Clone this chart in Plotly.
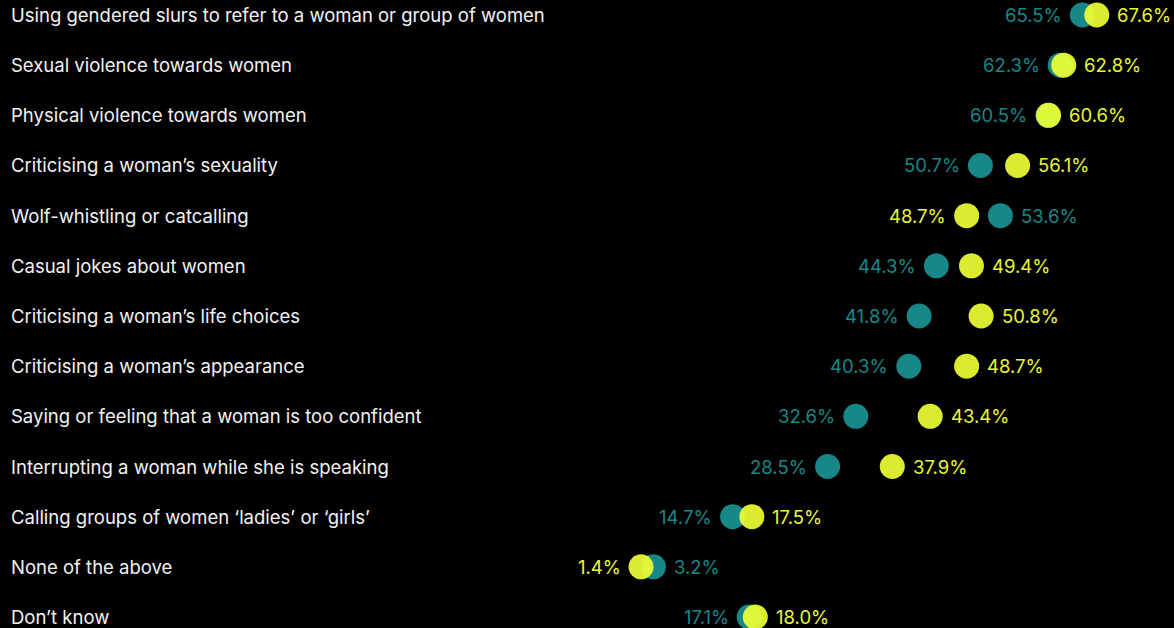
import plotly.graph_objects as go

categories = [
    "Using gendered slurs to refer to a woman or group of women",
    "Sexual violence towards women",
    "Physical violence towards women",
    "Criticising a woman\u2019s sexuality",
    "Wolf-whistling or catcalling",
    "Casual jokes about women",
    "Criticising a woman\u2019s life choices",
    "Criticising a woman\u2019s appearance",
    "Saying or feeling that a woman is too confident",
    "Interrupting a woman while she is speaking",
    "Calling groups of women \u2018ladies\u2019 or \u2018girls\u2019",
    "None of the above",
    "Don\u2019t know",
]
teal_values = [65.5, 62.3, 60.5, 50.7, 53.6, 44.3, 41.8, 40.3, 32.6, 28.5, 14.7, 3.2, 17.1]
yellow_values = [67.6, 62.8, 60.6, 56.1, 48.7, 49.4, 50.8, 48.7, 43.4, 37.9, 17.5, 1.4, 18.0]

TEAL = "#188787"
YELLOW = "#e6f73a"
FONT = "Inter"
FS = 18.5
DOT = 25
GAP = 6

ys = list(range(len(categories)))

fig = go.Figure()
fig.add_trace(go.Scatter(
    x=teal_values, y=ys, mode="markers",
    marker=dict(size=DOT, color=TEAL, line=dict(width=0)),
    hoverinfo="skip", showlegend=False,
))
fig.add_trace(go.Scatter(
    x=yellow_values, y=ys, mode="markers",
    marker=dict(size=DOT, color="rgba(240,255,52,0.92)", line=dict(width=0)),
    hoverinfo="skip", showlegend=False,
))

for i, (t, y) in enumerate(zip(teal_values, yellow_values)):
    teal_left = t <= y
    for v, col, left in ((t, TEAL, teal_left), (y, YELLOW, not teal_left)):
        fig.add_annotation(
            x=v, y=i, xref="x", yref="y", text=f"{v:.1f}%", showarrow=False,
            xanchor="right" if left else "left", yanchor="middle",
            xshift=-(DOT / 2 + GAP) if left else (DOT / 2 + GAP),
            font=dict(family=FONT, size=FS, color=col),
        )

for i, c in enumerate(categories):
    fig.add_annotation(
        x=11 / 1174, xref="paper", y=i, yref="y",
        text=c, showarrow=False, xanchor="left", yanchor="middle",
        xshift=-2,
        font=dict(family=FONT, size=FS, color="#f2f2f2"),
    )

fig.update_layout(
    width=1174, height=628,
    margin=dict(l=0, r=0, t=0, b=0),
    paper_bgcolor="#000000", plot_bgcolor="#000000",
    xaxis=dict(range=[-631.4 / 6.884, (1174 - 631.4) / 6.884], visible=False, fixedrange=True),
    yaxis=dict(range=[12 + 11 / 50.2, -15 / 50.2], visible=False, fixedrange=True),
)

fig.write_html(
    "out.html",
    config={"displayModeBar": False, "staticPlot": True},
    post_script="document.body.style.margin='0';document.body.style.background='#000';",
)
